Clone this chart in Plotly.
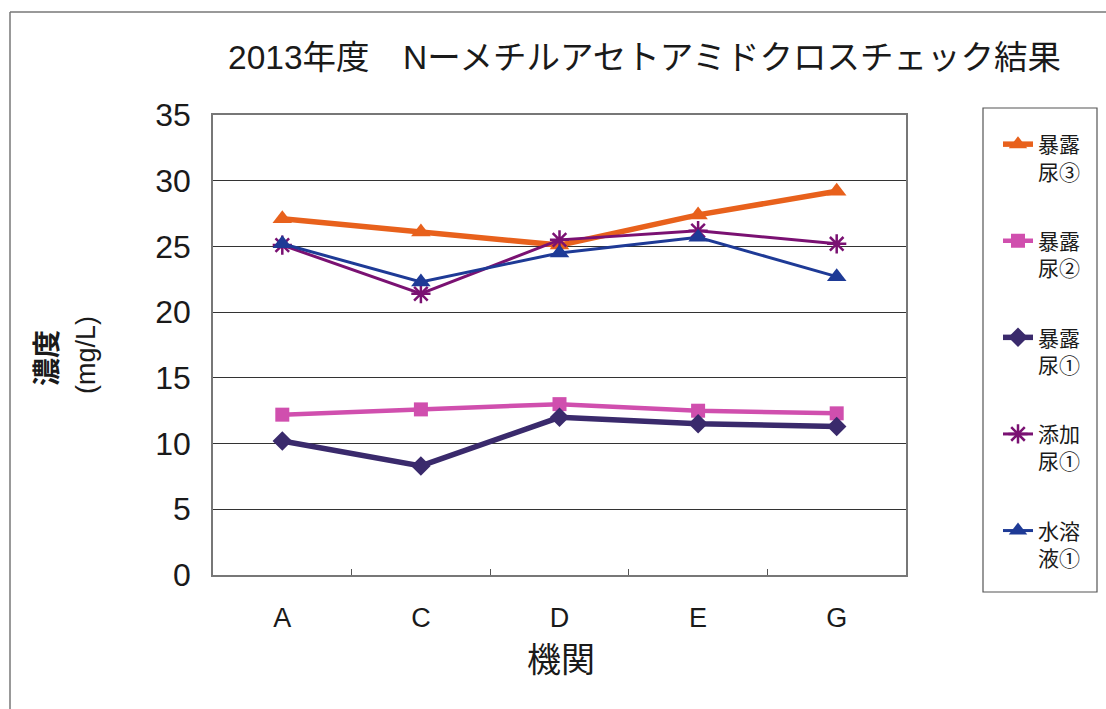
import plotly.graph_objects as go

# Laboratories (x categories)
labs = ["A", "C", "D", "E", "G"]

# N-methylacetamide concentration (mg/L) per sample
exposed_urine_3 = [27.1, 26.1, 25.1, 27.4, 29.2]
exposed_urine_2 = [12.2, 12.6, 13.0, 12.5, 12.3]
exposed_urine_1 = [10.2, 8.3, 12.0, 11.5, 11.3]
spiked_urine_1 = [25.1, 21.4, 25.5, 26.2, 25.2]
aqueous_sol_1 = [25.2, 22.3, 24.5, 25.7, 22.7]

series_names = ["暴露<br>尿③", "暴露<br>尿②", "暴露<br>尿①", "添加<br>尿①", "水溶<br>液①"]

y_ticks = [0, 5, 10, 15, 20, 25, 30, 35]

W, H = 1106, 709
ML, MR, MT, MB = 213, 200, 115, 134
PW, PH = W - ML - MR, H - MT - MB


def px_x(p):
    return (p - ML) / PW


def px_y(p):
    return (H - MB - p) / PH


CJK = "Liberation Sans, Noto Sans CJK JP"
INK = "#1a1a1a"

styles = [
    dict(data=exposed_urine_3, color="#E8611C", width=5.5,
         marker=dict(symbol="triangle-up", size=17)),
    dict(data=exposed_urine_2, color="#D04FAE", width=4.5,
         marker=dict(symbol="square", size=14)),
    dict(data=exposed_urine_1, color="#3A2A6C", width=5.5,
         marker=dict(symbol="diamond", size=15)),
    dict(data=spiked_urine_1, color="#7A1172", width=3,
         marker=dict(symbol="asterisk-open", size=16,
                     line=dict(width=2.5, color="#7A1172"))),
    dict(data=aqueous_sol_1, color="#1E3A96", width=3,
         marker=dict(symbol="triangle-up", size=17)),
]

fig = go.Figure()
for i, (name, st) in enumerate(zip(series_names, styles)):
    m = dict(st["marker"])
    m.setdefault("color", st["color"])
    fig.add_trace(go.Scatter(
        x=labs, y=st["data"], name=name, mode="lines+markers",
        line=dict(color=st["color"], width=st["width"]),
        marker=m, legendgroup=f"g{i}",
    ))


def label(text, x, y, size, angle=0):
    return dict(text=text, x=px_x(x), y=px_y(y), xref="paper", yref="paper",
                xanchor="center", yanchor="middle", showarrow=False,
                textangle=angle, font=dict(size=size, family=CJK, color=INK))


fig.update_layout(
    width=W, height=H,
    margin=dict(l=ML, r=MR, t=MT, b=MB, autoexpand=False),
    paper_bgcolor="white", plot_bgcolor="white",
    font=dict(family=CJK, color=INK),
    showlegend=True,
    legend=dict(
        x=px_x(998), y=px_y(124), xanchor="left", yanchor="top",
        borderwidth=0, bgcolor="rgba(0,0,0,0)",
        font=dict(size=21, family=CJK, color=INK),
        valign="top", tracegroupgap=39, traceorder="grouped",
        maxheight=600,
    ),
    xaxis=dict(
        type="category", range=[-0.5, 4.5], tickson="boundaries",
        ticks="inside", ticklen=6, tickcolor="#555",
        showline=True, linecolor="#777", linewidth=1.5, mirror=True,
        showgrid=False, tickfont=dict(size=27, family=CJK, color=INK),
        ticklabelstandoff=18,
    ),
    yaxis=dict(
        range=[0, 35], tickvals=y_ticks, ticks="",
        showline=True, linecolor="#777", linewidth=1.5, mirror=True,
        showgrid=True, gridcolor="#333", gridwidth=1,
        tickfont=dict(size=32, family=CJK, color=INK),
        ticklabelstandoff=14, zeroline=False,
    ),
    annotations=[
        label("2013年度　Nーメチルアセトアミドクロスチェック結果", 644, 57, 33.5),
        label("機関", 561, 660, 34),
        label("<b>濃度</b>", 47, 358, 28, -90),
        label("(mg/L)", 86, 355, 27, -90),
    ],
    shapes=[
        # outer frame of the chart object
        dict(type="line", xref="paper", yref="paper",
             x0=px_x(10), x1=px_x(1120), y0=px_y(12), y1=px_y(12),
             line=dict(color="#777", width=1.5)),
        dict(type="line", xref="paper", yref="paper",
             x0=px_x(10), x1=px_x(10), y0=px_y(12), y1=px_y(720),
             line=dict(color="#777", width=1.5)),
        # legend frame
        dict(type="rect", xref="paper", yref="paper", layer="below",
             x0=px_x(983), x1=px_x(1097), y0=px_y(108), y1=px_y(592),
             line=dict(color="#555", width=1.2)),
    ],
)

fig.write_html("out.html")
